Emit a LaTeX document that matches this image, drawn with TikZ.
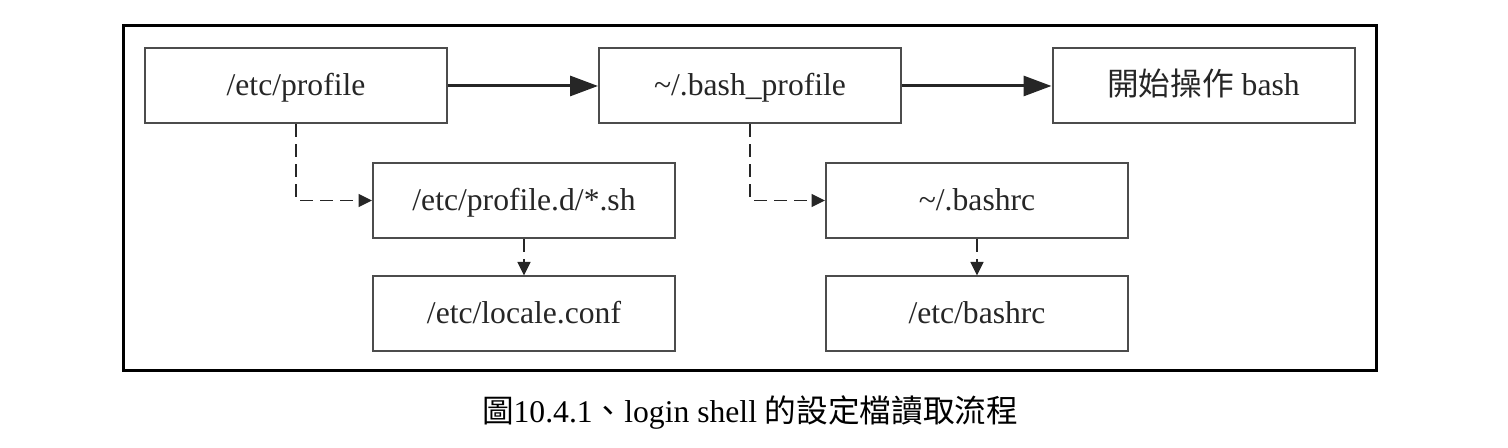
\documentclass[tikz,border=0pt]{standalone}
\usepackage{fontspec}
\setmainfont{Liberation Serif}
\newfontfamily\cjk{Noto Sans CJK TC}
\usepackage{tikz}
\usetikzlibrary{positioning, arrows.meta}
\tikzstyle{filebox} = [rectangle, minimum width=6.04cm, minimum height=1.5cm, text height=0.5cm, text depth=0.1cm, text centered, draw=black!70, line width=0.04cm, text=black!85, font=\fontsize{18}{20}\selectfont]
\tikzstyle{arrow} = [line width=0.06cm, black!85, -{Triangle[length=0.56cm, width=0.4cm]}]
\tikzstyle{dasharrow} = [line width=0.03cm, black!85, dash pattern=on 0.26cm off 0.14cm, -{Triangle[length=0.27cm, width=0.26cm]}]

\begin{document}
\begin{tikzpicture}
			\useasboundingbox (0,0) rectangle (30.16,8.96);
			\draw[line width=0.06cm] (2.46,1.54) rectangle (27.52,8.44);
			\node[filebox] (prof) at (5.92,7.24) {/etc/profile};
			\node[filebox] (bprof) at (15.0,7.24) {\textasciitilde/.bash\_profile};
			\node[filebox] (bash) at (24.07,7.24) {{\cjk 開始操作} bash};
			\node[filebox] (profd) at (10.48,4.95) {/etc/profile.d/*.sh};
			\node[filebox] (locale) at (10.48,2.68) {/etc/locale.conf};
			\node[filebox] (bashrc) at (19.54,4.95) {\textasciitilde/.bashrc};
			\node[filebox] (etcbashrc) at (19.54,2.68) {/etc/bashrc};
			\draw[arrow] (prof) -- (bprof);
			\draw[arrow] (bprof) -- (bash);
			\draw[dasharrow] (prof.south) |- (profd.west);
			\draw[dasharrow] (bprof.south) |- (bashrc.west);
			\draw[dasharrow] (profd) -- (locale);
			\draw[dasharrow] (bashrc) -- (etcbashrc);
			\node[font=\fontsize{18}{20}\selectfont] (caption) at (15.0,0.7) {{\cjk 圖}10.4.1{\cjk 、}login shell {\cjk 的設定檔讀取流程}};

		\end{tikzpicture}
\end{document}
